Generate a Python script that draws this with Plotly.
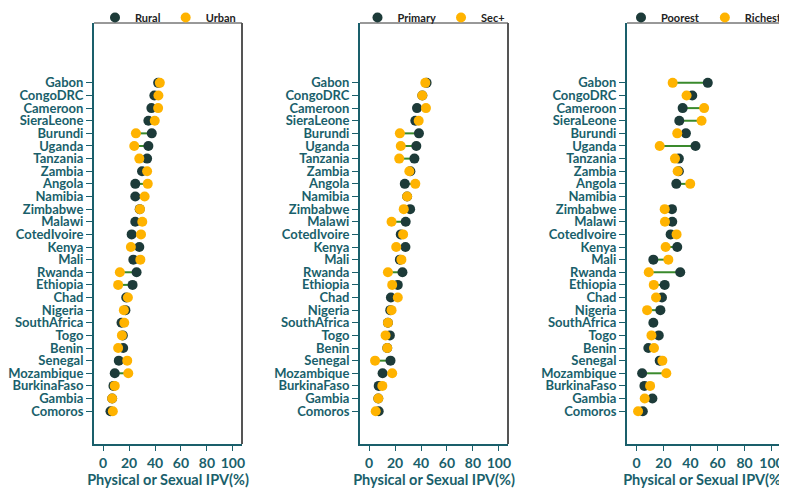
import plotly.graph_objects as go

countries = ["Gabon", "CongoDRC", "Cameroon", "SieraLeone", "Burundi", "Uganda", "Tanzania",
             "Zambia", "Angola", "Namibia", "Zimbabwe", "Malawi", "CotedIvoire", "Kenya", "Mali",
             "Rwanda", "Ethiopia", "Chad", "Nigeria", "SouthAfrica", "Togo", "Benin", "Senegal",
             "Mozambique", "BurkinaFaso", "Gambia", "Comoros"]

rural = [42.4, 39.5, 37.2, 34.9, 37.5, 34.9, 33.9, 30.0, 24.8, 24.8, 28.2, 24.8, 22.0, 27.9, 23.3,
         25.8, 22.7, 17.8, 17.2, 14.2, 15.2, 15.5, 12.1, 9.0, 8.0, 7.0, 5.7]
urban = [43.7, 42.6, 42.4, 39.8, 25.3, 24.0, 27.9, 33.9, 34.4, 32.0, 28.4, 30.2, 29.2, 21.4, 28.7,
         12.9, 11.6, 19.1, 16.0, 16.3, 14.5, 11.6, 18.6, 19.4, 9.0, 7.0, 7.5]

primary = [44.3, 41.0, 36.9, 35.6, 38.4, 36.4, 34.9, 31.8, 27.5, 29.3, 31.6, 28.2, 24.4, 28.0, 23.7,
           25.7, 22.1, 16.8, 16.3, 14.5, 16.0, 14.0, 16.5, 10.4, 7.4, 7.1, 7.4]
secplus = [43.3, 41.0, 43.8, 38.2, 23.7, 24.4, 23.2, 31.0, 35.6, 29.3, 26.7, 17.3, 26.2, 20.9, 24.9,
           14.5, 17.8, 22.1, 17.3, 14.5, 12.7, 14.0, 4.6, 17.8, 10.2, 7.1, 5.1]

poorest = [52.8, 41.3, 34.2, 31.7, 36.6, 43.7, 31.4, 31.4, 29.5, None, 26.3, 26.5, 25.3, 30.2, 12.5,
           32.4, 20.9, 18.9, 17.7, 12.5, 16.5, 8.8, 17.2, 4.2, 5.9, 11.8, 4.7]
richest = [26.8, 37.1, 50.1, 48.2, 30.2, 17.2, 28.5, 30.5, 39.8, None, 20.9, 21.1, 29.7, 21.6, 23.6,
           9.1, 12.8, 14.5, 7.9, None, 11.1, 13.0, 19.2, 22.1, 10.1, 6.1, 1.2]

x_ticks = [0, 20, 40, 60, 80, 100]
x_title = "Physical or Sexual IPV(%)"

DARK = "#1d3b39"
ORANGE = "#FFB300"
LINE = "#3a8a2c"
TEAL = "#1a5f6b"
FONT = "Lato"

# the page puts the figure 8px in from the window edge; positions below are window pixels
OFF = 8
W, H = 787, 488


def px(X):
    return (X - OFF) / W


def py(Y):
    return 1 - (Y - OFF) / H


panels = [
    (rural, urban, "Rural", "Urban", (94, 242)),
    (primary, secplus, "Primary", "Sec+", (360, 508)),
    (poorest, richest, "Poorest", "Richest", (627, 781)),
]
y_top, y_bot = 23, 444

fig = go.Figure()
for i, (a, b, na, nb, (xl, xr)) in enumerate(panels):
    k = "" if i == 0 else str(i + 1)
    xa, ya = "x" + k, "y" + k
    leg = "legend" + k
    lx, ly = [], []
    for c, va, vb in zip(countries, a, b):
        if va is not None and vb is not None:
            lx += [va, vb, None]
            ly += [c, c, None]
    fig.add_trace(go.Scatter(x=lx, y=ly, mode="lines", line=dict(color=LINE, width=2),
                             showlegend=False, hoverinfo="skip", xaxis=xa, yaxis=ya))
    fig.add_trace(go.Scatter(x=a, y=countries, mode="markers", name=na,
                             marker=dict(color=DARK, size=10), xaxis=xa, yaxis=ya, legend=leg))
    fig.add_trace(go.Scatter(x=b, y=countries, mode="markers", name=nb,
                             marker=dict(color=ORANGE, size=10), xaxis=xa, yaxis=ya, legend=leg))
    dom_x = [px(xl), px(xr)]
    dom_y = [py(y_bot), py(y_top)]
    fig.layout["xaxis" + k] = dict(
        domain=dom_x, anchor=ya, range=[-7, 107], tickvals=x_ticks, automargin=False,
        showgrid=False, zeroline=False, showline=True, linecolor=TEAL, linewidth=2,
        ticks="outside", ticklen=5, tickcolor=TEAL, tickwidth=1,
        tickfont=dict(family=FONT, size=14, color=TEAL, weight="bold"),
        title=dict(text=x_title, standoff=5, font=dict(family=FONT, size=14.5, color=TEAL, weight="bold")),
    )
    fig.layout["yaxis" + k] = dict(
        domain=dom_y, anchor=xa, type="category", categoryarray=countries[::-1], automargin=False,
        tickmode="array", tickvals=countries, ticktext=countries,
        range=[-2.6, 30.74], showgrid=False, zeroline=False, showline=True, linecolor=TEAL, linewidth=2,
        ticks="outside", ticklen=6, tickcolor=TEAL, tickwidth=1,
        tickfont=dict(family=FONT, size=13, color=TEAL, weight="bold"),
    )
    fig.layout[leg] = dict(
        orientation="h", x=px((xl + xr) / 2), xanchor="center", y=1 + 5 / H, yanchor="top",
        font=dict(family=FONT, size=11, color="#222222", weight="bold"), bgcolor="rgba(0,0,0,0)",
        itemwidth=30,
    )
    # top and right frame lines
    fig.add_shape(type="line", xref=xa + " domain", yref=ya + " domain", x0=0, x1=1, y0=1, y1=1,
                  line=dict(color="#333333", width=1))
    fig.add_shape(type="line", xref=xa + " domain", yref=ya + " domain", x0=1, x1=1, y0=0, y1=1,
                  line=dict(color="#555555", width=2))

fig.update_layout(width=W, height=H, margin=dict(l=0, r=0, t=0, b=0, autoexpand=False),
                  paper_bgcolor="white", plot_bgcolor="white")
fig.write_html("out.html")
